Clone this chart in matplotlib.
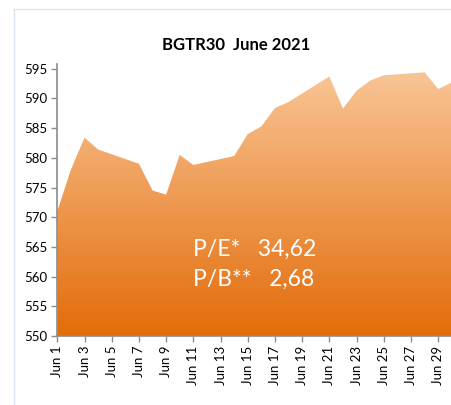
import numpy as np
import matplotlib
matplotlib.use("Agg")
import matplotlib.pyplot as plt
from matplotlib.colors import LinearSegmentedColormap
from matplotlib.lines import Line2D

plt.rcParams['font.family'] = ['Lato', 'DejaVu Sans']

# trading days of June 2021 and index close
days = [1, 2, 3, 4, 7, 8, 9, 10, 11, 14, 15, 16, 17, 18, 21, 22, 23, 24, 25, 28, 29, 30]
values = [571.0, 578.0, 583.4, 581.4, 579.0, 574.5, 573.8, 580.5, 578.8, 580.3, 584.0,
          585.3, 588.4, 589.4, 593.7, 588.3, 591.3, 593.0, 593.9, 594.4, 591.6, 592.7]
tick_days = list(range(1, 30, 2))
tick_labels = ["Jun %d" % d for d in tick_days]
title = "BGTR30  June 2021"
notes = ["P/E*   34,62", "P/B**   2,68"]

fig = plt.figure(figsize=(4.52, 4.05), dpi=100)
ax = fig.add_axes([57.3 / 452, 1 - 336 / 405, 394.5 / 452, 272 / 405])

ymin, ymax = 550, 595.8
poly = ax.fill_between(days, values, ymin, color='none', lw=0)

cmap = LinearSegmentedColormap.from_list('g', ['#e36c0a', '#f9c596'])
grad = np.linspace(0, 1, 256).reshape(-1, 1)
img = ax.imshow(grad, cmap=cmap, aspect='auto', origin='lower',
                extent=[1, 30, ymin, 594.6], zorder=1)
img.set_clip_path(poly.get_paths()[0], transform=ax.transData)

ax.set_xlim(1, 30)
ax.set_ylim(ymin, ymax)
ax.set_yticks(range(550, 596, 5))
ax.set_xticks(tick_days)
ax.set_xticklabels(tick_labels, rotation=90)
ax.tick_params(axis='both', labelsize=9.5, color='#8c8c8c', length=4, width=1,
               labelcolor='black', pad=3)

for s in ['top', 'right']:
    ax.spines[s].set_visible(False)
for s in ['left', 'bottom']:
    ax.spines[s].set_color('#8c8c8c')
    ax.spines[s].set_linewidth(1.2)

fig.text(236 / 452, 1 - 45 / 405, title, ha='center', va='center',
         fontsize=12, fontweight='bold')

ax.text(11.0, 564.6, notes[0], color='white', fontsize=16.5, va='center', ha='left')
ax.text(11.0, 559.5, notes[1], color='white', fontsize=16.5, va='center', ha='left')

# outer chart frame (left and top edges)
fig.add_artist(Line2D([14 / 452, 14 / 452], [0, 1 - 9 / 405], color='#dae3ef', lw=1))
fig.add_artist(Line2D([14 / 452, 1], [1 - 9 / 405, 1 - 9 / 405], color='#dae3ef', lw=1))

fig.savefig('out.png', dpi=100)
